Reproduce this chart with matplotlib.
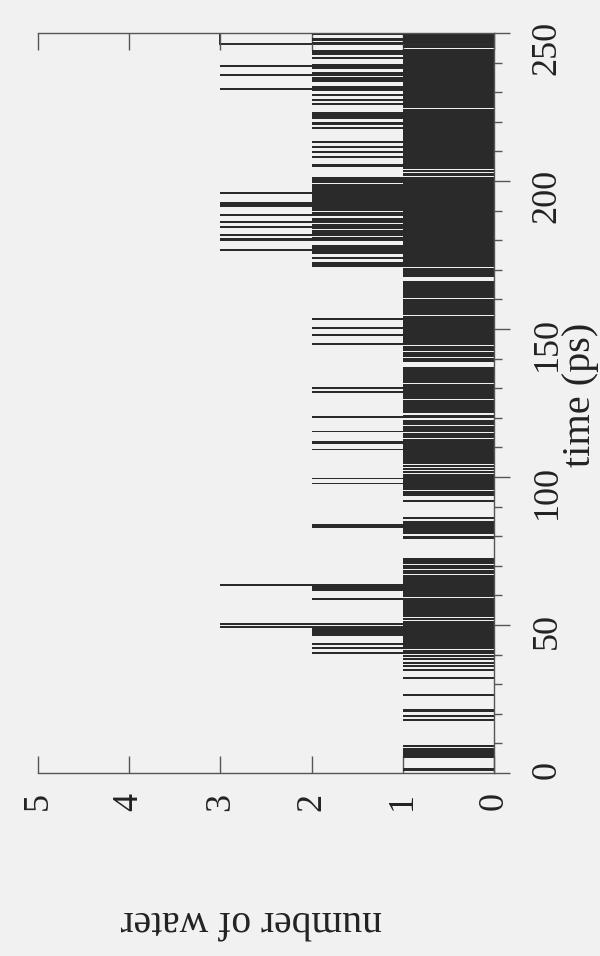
import matplotlib
matplotlib.use("Agg")
import matplotlib.pyplot as plt
from matplotlib.patches import Rectangle

# Occupancy of the channel by water molecules over a 250 ps trajectory.
# Each span is a stretch of time (ps) during which the given number of
# waters is present; adjacent spans are separated by short empty gaps.
one_start = [0.8, 5.0, 8.8, 17.6, 19.0, 20.6, 26.1, 31.6, 34.5, 35.9, 36.9, 38.3, 39.3,
             40.1, 40.9, 42.0, 43.7, 51.7, 52.8, 59.5, 64.0, 67.1, 68.8, 70.7,
             79.2, 80.7, 85.7, 91.4, 93.7, 95.6, 101.3, 102.3, 103.4, 104.4, 113.1,
             115.3, 117.6, 119.8, 121.5, 126.4, 131.7, 138.8, 140.7, 142.6, 144.6,
             154.8, 160.4, 167.5, 171.0, 172.4, 176.2, 195.4, 201.8, 203.0, 204.2,
             224.7, 245.0, 246.4]
one_end = [1.7, 8.4, 9.5, 18.3, 19.7, 21.5, 26.8, 32.6, 35.2, 36.6, 37.6, 39.0, 39.8,
           40.5, 41.6, 43.3, 51.3, 52.4, 59.1, 63.7, 66.8, 68.5, 70.4, 72.8,
           80.0, 85.3, 86.4, 92.2, 95.2, 101.0, 101.9, 103.0, 104.0, 112.7, 114.9,
           117.2, 119.4, 121.1, 126.0, 131.3, 137.1, 140.3, 142.2, 144.2, 154.4,
           160.0, 166.4, 170.6, 172.0, 175.8, 195.0, 201.5, 202.6, 203.8, 224.3,
           244.6, 246.0, 250.0]

two_start = [40.1, 42.0, 43.3, 46.3, 49.9, 58.6, 61.6, 82.9, 97.5, 99.2, 109.0, 111.2,
             115.1, 119.9, 128.4, 129.8, 144.7, 147.8, 150.0, 153.2,
             170.8, 173.6, 175.2, 177.0, 179.8, 181.5, 183.8, 185.8, 188.2, 190.0,
             192.0, 196.2, 199.5, 204.6, 207.9, 209.6, 211.1, 213.0, 217.5, 219.1,
             221.1, 225.8, 226.9, 228.8, 230.3, 231.5, 233.5, 236.0, 238.0, 241.1,
             242.6, 246.2, 247.3, 249.3]
two_end = [40.9, 42.6, 44.0, 49.6, 50.8, 59.3, 64.0, 84.2, 98.1, 99.8, 109.6, 112.3,
           115.7, 120.5, 129.0, 130.4, 145.3, 148.4, 150.6, 153.8,
           172.8, 174.5, 176.4, 178.5, 181.0, 183.3, 185.4, 187.5, 189.5, 191.6,
           195.8, 199.1, 201.4, 205.8, 208.6, 210.3, 211.8, 213.7, 218.2, 219.8,
           223.4, 226.5, 227.6, 229.4, 231.0, 232.2, 235.2, 236.7, 239.7, 241.8,
           244.4, 246.9, 248.2, 250.0]

three_start = [48.9, 50.0, 63.3, 176.5, 179.9, 181.4, 184.1, 185.8, 188.1, 191.1,
               195.5, 230.6, 235.5, 238.5]
three_end = [49.6, 50.8, 64.0, 177.2, 180.6, 182.1, 184.8, 186.5, 188.8, 193.0,
             196.2, 231.3, 236.2, 239.2]

# Final stretch where three waters sit in the channel, drawn as an open step
held_start, held_end, held_n = 246.2, 250.0, 3

count_ticks = [0, 1, 2, 3, 4, 5]
time_major = [0, 50, 100, 150, 200, 250]
time_minor = list(range(0, 251, 10))

paper = "#f1f1f1"
ink = "#2a2a2a"
axis_ink = "#555555"
serif = ["Liberation Serif", "DejaVu Serif"]

fig = plt.figure(figsize=(6.0, 9.56), dpi=100, facecolor=paper)
ax = fig.add_axes([0.0633, 0.1914, 0.76, 0.774])
ax.set_facecolor("none")

ax.add_patch(Rectangle((0, held_start), held_n, held_end - held_start,
                       facecolor="none", edgecolor=ink, linewidth=1.4, zorder=1))

for n, starts, ends in ((1, one_start, one_end),
                        (2, two_start, two_end),
                        (3, three_start, three_end)):
    heights = [e - s for s, e in zip(starts, ends)]
    ax.barh(starts, [n] * len(starts), height=heights, left=0, align="edge",
            color=ink, linewidth=0, zorder=2)

ax.set_xlim(5, 0)
ax.set_ylim(0, 250)

for side in ("top", "bottom", "right"):
    ax.spines[side].set_color(axis_ink)
    ax.spines[side].set_linewidth(1.0)
ax.spines["left"].set_visible(False)

ax.set_xticks(count_ticks)
ax.set_xticklabels([str(v) for v in count_ticks])
ax.tick_params(axis="x", which="both", direction="in", top=True, bottom=True,
               length=12, width=1.0, color=axis_ink, labelrotation=90,
               pad=14, labelsize=26, labelcolor="#222222")

ax.yaxis.tick_right()
ax.set_yticks(time_major)
ax.set_yticks(time_minor, minor=True)
ax.set_yticklabels([str(v) for v in time_major])
ax.tick_params(axis="y", which="major", direction="out", length=11.5, width=1.0,
               color=axis_ink, labelrotation=90, pad=15, labelsize=26,
               labelcolor="#222222")
ax.tick_params(axis="y", which="minor", direction="out", length=5.8, width=1.0,
               color=axis_ink)
ax.tick_params(axis="y", which="both", left=False)

for lab in ax.get_xticklabels() + ax.get_yticklabels():
    lab.set_fontfamily(serif)

ax.yaxis.set_label_position("right")
ax.set_ylabel("time (ps)", rotation=90, va="center", ha="center",
              fontsize=29, family=serif, color="#222222")
ax.yaxis.set_label_coords(1.19, 0.511)

ax.set_xlabel("number of water", rotation=180, va="center", ha="center",
              fontsize=28.5, family=serif, color="#222222")
ax.xaxis.set_label_coords(0.467, -0.199)

fig.savefig("out.png", dpi=100, facecolor=paper)
